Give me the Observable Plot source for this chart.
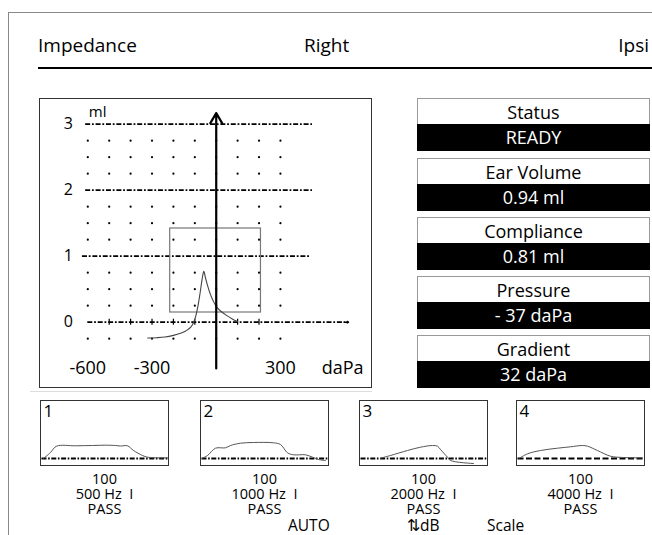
<!DOCTYPE html>
<html><head><meta charset="utf-8">
<script src="https://cdn.jsdelivr.net/npm/d3@7"></script>
<script src="https://cdn.jsdelivr.net/npm/@observablehq/plot@0.6"></script>
<style>
html,body{margin:0;padding:0;background:#fff;}
body{font-family:"Open Sans",sans-serif;color:#000;}
#page{position:relative;width:652px;height:535px;overflow:hidden;background:#fff;}
.a{position:absolute;white-space:pre;}
.box{position:absolute;box-sizing:border-box;border:1px solid #333;pointer-events:none;}
.hd{font-size:19px;line-height:20px;}
.st{position:absolute;left:417px;width:233px;box-sizing:border-box;}
.st .w{height:26px;line-height:26px;text-align:center;font-size:18px;border:1px solid #999;border-bottom:none;box-sizing:border-box;}
.st .b{height:27px;line-height:27px;text-align:center;font-size:18px;background:#000;color:#fff;}
.bl{position:absolute;width:129px;text-align:center;font-size:14.5px;line-height:15px;}
.ft{font-size:15.5px;line-height:15px;}
</style></head><body><div id="page"></div>
<script>
// ---------- data ----------
const headerLabels = ["Impedance", "Right", "Ipsi"];
const yTicks = [0, 1, 2, 3];
const xTickLabels = [-600, -300, 300];
const gridX = [-600, -500, -400, -300, -200, -100, 0, 100, 200, 300];
const gridY = [-0.25, 0.25, 0.5, 0.75, 1.25, 1.5, 1.75, 2.25, 2.5, 2.75];
const refLines = [
  {y: 3, x1: -610, x2: 450},
  {y: 2, x1: -610, x2: 450},
  {y: 1, x1: -625, x2: 442}
];
const zeroLine = [{y: 0, x1: -600, x2: 618}];
const pressureAxis = [{x: 0, y1: -0.7, y2: 3.17}];
const zeroTicks = [-500, -400, -300, -200, -100, 100, 200];
const normBox = [{x1: -215, x2: 209, y1: 0.147, y2: 1.42}];
const pressure   = [-320, -280, -240, -200, -160, -136, -118, -105, -95, -85, -75, -66, -58, -50, -40, -28, -15, 0, 20, 50, 75, 100];
const compliance = [-0.24, -0.235, -0.225, -0.2, -0.16, -0.12, -0.07, 0, 0.1, 0.25, 0.45, 0.65, 0.77, 0.67, 0.55, 0.43, 0.33, 0.24, 0.17, 0.1, 0.05, 0.01];

const statusLabels = ["Status", "Ear Volume", "Compliance", "Pressure", "Gradient"];
const statusValues = ["READY", "0.94 ml", "0.81 ml", "- 37 daPa", "32 daPa"];

const bandNames = ["1", "2", "3", "4"];
const bandLevels = ["100", "100", "100", "100"];
const bandFreqs = ["500 Hz  I", "1000 Hz  I", "2000 Hz  I", "4000 Hz  I"];
const bandResults = ["PASS", "PASS", "PASS", "PASS"];
const bandTime = [
  [3, 10, 16, 35, 52, 65, 75, 80, 87, 93, 102, 107, 115, 128],
  [2, 7, 15, 25, 30, 40, 53, 73, 80, 87, 93, 105, 112, 118, 125],
  [21, 31, 48, 61, 73, 78, 81, 88, 91, 114],
  [3, 11, 24, 41, 54, 66, 71, 81, 94, 107, 126]
];
const bandAmp = [
  [0, 6, 12.3, 12.7, 13, 13.3, 13, 12.5, 12.7, 8, 3, 1.3, 0.7, 0.7],
  [0.3, 3, 10.3, 10.7, 13, 15.3, 16, 15.7, 14, 5.7, 3.7, 3.7, 1.3, -1, -2],
  [0.3, 3, 8, 11.3, 13, 12.3, 9, 1.3, -2, -5],
  [0.3, 4.7, 8, 10.3, 11.7, 13, 12.3, 8, 2.3, 1, 0.7]
];
const bandDash = ["5,1.6,1.6,1.6", "5,1.6,1.6,1.6", "5,1.6,1.6,1.6", "6,2.5"];
const footerLabels = ["AUTO", "\u21C5dB", "Scale"];

// ---------- layout ----------
const page = document.getElementById("page");
function el(cls, css, text) {
  const d = document.createElement("div");
  d.className = cls;
  Object.assign(d.style, css);
  if (text != null) d.textContent = text;
  page.appendChild(d);
  return d;
}
// frame lines
el("a", {left: "8px", top: "12px", width: "644px", height: "0", borderTop: "1px solid #888"});
el("a", {left: "8px", top: "12px", width: "0", height: "523px", borderLeft: "1px solid #888"});
// header
el("a hd", {left: "38px", top: "35px"}, headerLabels[0]);
el("a hd", {left: "304px", top: "35px"}, headerLabels[1]);
el("a hd", {right: "3px", top: "35px"}, headerLabels[2]);
el("a", {left: "38px", top: "67px", width: "614px", height: "2px", background: "#000"});

// main tympanogram
const curve = pressure.map((p, i) => ({p, c: compliance[i]}));
const main = Plot.plot({
  width: 333, height: 290,
  marginLeft: 48.3, marginRight: 24, marginTop: 14.5, marginBottom: 20.1,
  x: {domain: [-600, 618], range: [48.3, 309], axis: null},
  y: {domain: [-0.7, 3.17], range: [269.9, 14.5], axis: null},
  style: {fontFamily: "Open Sans", background: "transparent", overflow: "visible", color: "#000"},
  marks: [
    Plot.dot(d3.cross(gridX, gridY), {x: d => d[0], y: d => d[1], r: 1.1, fill: "#000", stroke: null}),
    Plot.ruleY(refLines, {y: "y", x1: "x1", x2: "x2", stroke: "#000", strokeWidth: 1.8, strokeDasharray: "5,1.8,1.8,1.8"}),
    Plot.ruleY(zeroLine, {y: "y", x1: "x1", x2: d => d.x2 - 15, stroke: "#000", strokeWidth: 1.8, strokeDasharray: "5,1.8,1.8,1.8"}),
    Plot.arrow(zeroLine, {x1: d => d.x2 - 20, x2: "x2", y1: "y", y2: "y", stroke: "#000", strokeWidth: 1.5, headLength: 7}),
    Plot.ruleX(zeroTicks, {x: d => d, y1: -0.045, y2: 0.045, stroke: "#000", strokeWidth: 1.2}),
    Plot.rect(normBox, {x1: "x1", x2: "x2", y1: "y1", y2: "y2", fill: "none", stroke: "#777", strokeWidth: 1.2}),
    Plot.line(curve, {x: "p", y: "c", stroke: "#444", strokeWidth: 1.1, curve: "catmull-rom"}),
    Plot.arrow(pressureAxis, {x1: "x", x2: "x", y1: "y1", y2: "y2", stroke: "#000", strokeWidth: 2.2, headLength: 8}),
    Plot.text(yTicks, {y: d => d, frameAnchor: "left", dx: -15, textAnchor: "end", text: d => String(d), fontSize: 16, fill: "#000"}),
    Plot.text(xTickLabels, {x: d => d, frameAnchor: "bottom", lineAnchor: "middle", text: d => String(d), fontSize: 18, fill: "#000"}),
    Plot.text(["daPa"], {frameAnchor: "bottom-right", dx: 15, textAnchor: "end", lineAnchor: "middle", fontSize: 18, fill: "#000"}),
    Plot.text(["ml"], {frameAnchor: "top-left", dx: 1, dy: -7, textAnchor: "start", lineAnchor: "top", fontSize: 15, fill: "#000"})
  ]
});
Object.assign(main.style, {position: "absolute", left: "39px", top: "98px"});
page.appendChild(main);
el("box", {left: "39px", top: "98px", width: "333px", height: "290px"});
el("a", {left: "30px", top: "391px", width: "342px", height: "1px", background: "#ddd"});

// status panel
const stTops = [98, 158, 217, 276, 335];
statusLabels.forEach((lab, i) => {
  const d = el("st", {top: stTops[i] + "px"});
  const w = document.createElement("div"); w.className = "w"; w.textContent = lab;
  const b = document.createElement("div"); b.className = "b"; b.textContent = statusValues[i];
  d.appendChild(w); d.appendChild(b);
});

// band charts
const bandLeft = [40, 200, 359, 516];
bandNames.forEach((name, i) => {
  const data = bandTime[i].map((t, j) => ({t, a: bandAmp[i][j]}));
  const p = Plot.plot({
    width: 129, height: 66,
    margin: 0,
    x: {domain: [0, 129], range: [0, 129], axis: null},
    y: {domain: [-7, 58], range: [65, 0], axis: null},
    style: {fontFamily: "Open Sans", background: "transparent", overflow: "visible"},
    marks: [
      Plot.ruleY([0], {x1: 1.5, x2: 128, stroke: "#000", strokeWidth: 1.8, strokeDasharray: bandDash[i]}),
      Plot.line(data, {x: "t", y: "a", stroke: "#555", strokeWidth: 1, curve: "catmull-rom"}),
      Plot.text([name], {frameAnchor: "top-left", dx: 3, dy: 4, lineAnchor: "top", textAnchor: "start", fontSize: 17, fill: "#000"})
    ]
  });
  Object.assign(p.style, {position: "absolute", left: bandLeft[i] + "px", top: "400px"});
  page.appendChild(p);
  el("box", {left: bandLeft[i] + "px", top: "400px", width: "129px", height: "66px"});
  el("bl", {left: bandLeft[i] + "px", top: "471px"}, bandLevels[i]);
  el("bl", {left: bandLeft[i] + "px", top: "486px", whiteSpace: "pre"}, bandFreqs[i]);
  el("bl", {left: bandLeft[i] + "px", top: "501px"}, bandResults[i]);
});

// footer
const footLeft = [288, 407, 487];
footerLabels.forEach((t, i) => el("a ft", {left: footLeft[i] + "px", top: "518px"}, t));
</script></body></html>
